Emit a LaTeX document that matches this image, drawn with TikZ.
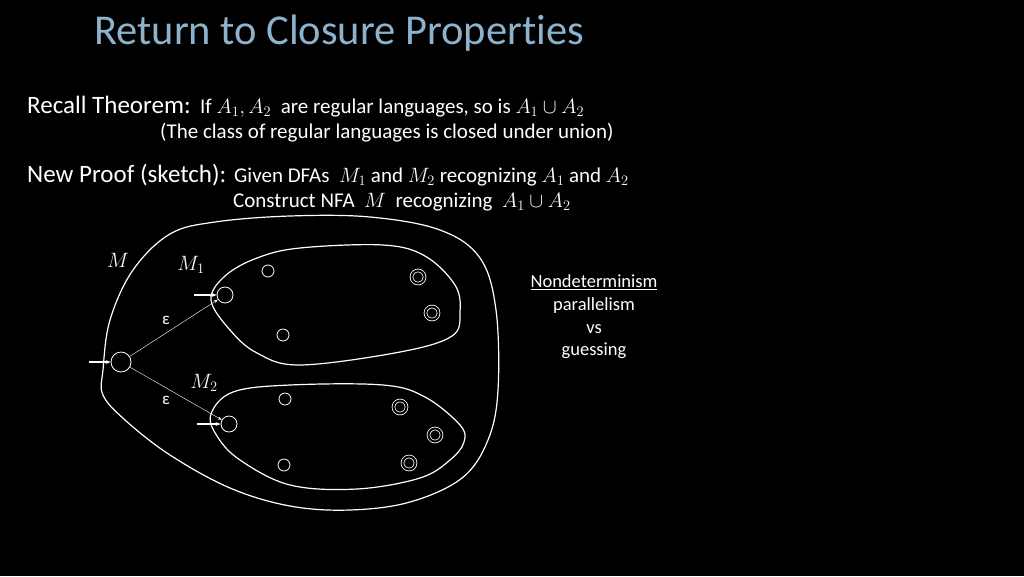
\documentclass[tikz,border=0pt]{standalone}
\usepackage{fontspec}
\setmainfont{Carlito}[Ligatures=NoCommon]
\usepackage{amsmath}
\usetikzlibrary{arrows.meta}

\definecolor{titleblue}{RGB}{140,178,204}

\tikzset{
    txt/.style={white, anchor=base west, inner sep=0pt, font=\fontsize{21}{25}\selectfont},
    side/.style={white, anchor=base, inner sep=0pt, font=\fontsize{18.5}{22}\selectfont},
    head/.style={white, anchor=base west, inner sep=0pt, font=\fontsize{25}{29}\selectfont},
    state/.style={circle, draw=white, thick, inner sep=0pt, minimum size=12pt},
    accept/.style={state, double=black, double distance=2pt, minimum size=13pt},
    start/.style={state, minimum size=20pt},
    blob/.style={white, line width=1.2pt},
    entry/.style={white, line width=1.6pt, -{Stealth[length=5pt]}},
}

\begin{document}
\begin{tikzpicture}[x=1pt, y=-1pt]
    \fill[black] (0,0) rectangle (1024,576);
    \useasboundingbox (0,0) rectangle (1024,576);

    \node[anchor=base west, inner sep=0pt, titleblue, font=\fontsize{42.5}{46}\selectfont] (title) at (94,44) {Return to Closure Properties};

    \node[head] (recall) at (27,113) {Recall Theorem:};
    \node[txt] (thm) at (200,113) {If $A_1, A_2$ \ are regular languages, so is $A_1 \cup A_2$};
    \node[txt] (thm2) at (160,138) {(The class of regular languages is closed under union)};

    \node[head] (newproof) at (27,182) {New Proof (sketch):};
    \node[txt] (given) at (234,182) {Given DFAs \ $M_1$ and $M_2$ recognizing $A_1$ and $A_2$};
    \node[txt] (construct) at (233,207) {Construct NFA \ $M$ \ recognizing \ $A_1 \cup A_2$};

    % the machines
    \draw[blob] plot[smooth cycle, tension=0.6] coordinates {
        (103,370) (110,320) (133,270) (170,234) (215,222) (290,216) (370,217)
        (440,230) (480,258) (496,310) (498,390) (488,440) (462,478) (410,502)
        (350,510) (290,506) (230,488) (170,455) (125,420) (103,395)};
    \draw[blob] plot[smooth cycle, tension=0.6] coordinates {
        (211,300) (225,276) (257,258) (300,248) (383,245) (425,256) (455,285)
        (460,312) (452,336) (400,352) (300,365) (257,353) (230,330)};
    \draw[blob] plot[smooth cycle, tension=0.6] coordinates {
        (211,414) (233,392) (290,385) (383,385) (425,397) (460,425) (464,442)
        (450,460) (420,478) (357,489) (290,485) (240,460) (217,436)};

    \node[white, font=\fontsize{20}{24}\selectfont] (mlab) at (118,260) {$M$};
    \node[white, font=\fontsize{20}{24}\selectfont] (m1lab) at (191,265) {$M_1$};
    \node[white, font=\fontsize{20}{24}\selectfont] (m2lab) at (204,383) {$M_2$};

    \node[start] (q0) at (121,362) {};
    \node[state, minimum size=16pt] (p0) at (225,295) {};
    \node[state] (p1) at (268,271) {};
    \node[state] (p2) at (283,335) {};
    \node[accept] (p3) at (418,277) {};
    \node[accept] (p4) at (432,313) {};

    \node[state, minimum size=16pt] (r0) at (229,424) {};
    \node[state] (r1) at (285,399) {};
    \node[state] (r2) at (284,465) {};
    \node[accept] (r3) at (400,407) {};
    \node[accept] (r4) at (435,435) {};
    \node[accept] (r5) at (409,463) {};

    \coordinate (q0in) at (89,362);
    \coordinate (p0in) at (194,295);
    \coordinate (r0in) at (197,424);
    \draw[entry] (q0in) -- (q0);
    \draw[entry] (p0in) -- (p0);
    \draw[entry] (r0in) -- (r0);

    \draw[white, thin, -{Stealth[length=4pt]}] (q0) -- (p0);
    \draw[white, thin, -{Stealth[length=4pt]}] (q0) -- (r0);
    \node[white, font=\fontsize{17}{20}\selectfont] (eps1) at (166,320) {ε};
    \node[white, font=\fontsize{17}{20}\selectfont] (eps2) at (166,400) {ε};

    \node[side] (nondet) at (594,287) {\underline{Nondeterminism}};
    \node[side] (par) at (594,310) {parallelism};
    \node[side] (vs) at (594,333) {vs};
    \node[side] (guess) at (594,355) {guessing};

\end{tikzpicture}
\end{document}
